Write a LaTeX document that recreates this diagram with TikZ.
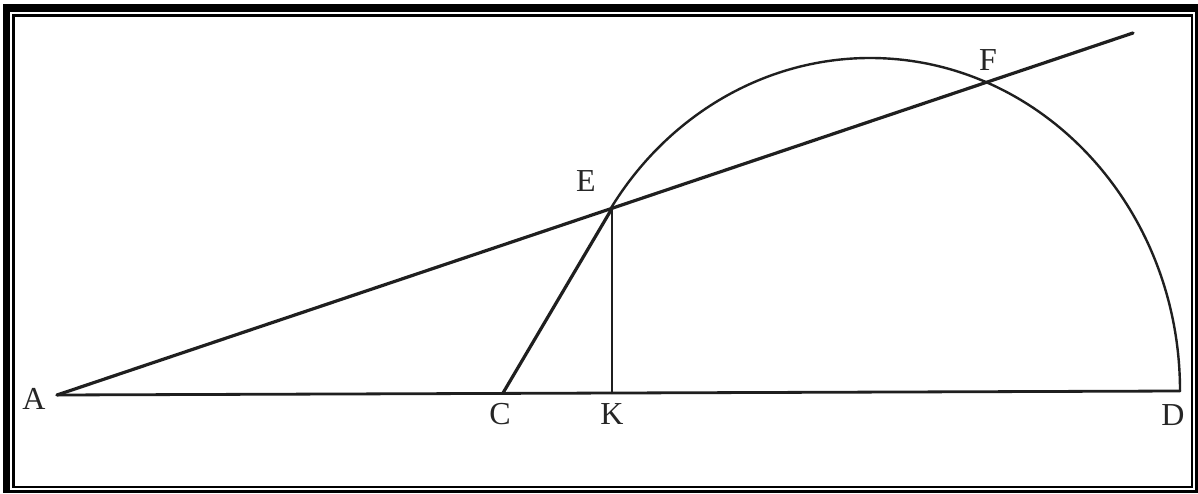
\documentclass[tikz,border=0pt]{standalone}
\usepackage{fontspec}
\setmainfont{Liberation Serif}
\begin{document}
\begin{tikzpicture}[x=1pt,y=1pt,
  lbl/.style={inner sep=0pt,font=\fontsize{32}{32}\selectfont,text=black!85},
  geo/.style={draw=black!88,line cap=round,line join=round},
  thick line/.style={geo,line width=3.2pt},
  mid line/.style={geo,line width=2.8pt},
  thin line/.style={geo,line width=2.4pt}]
\useasboundingbox (0,0) rectangle (1198,493);
\fill[white] (0,0) rectangle (1198,493);
% frame
\fill[black] (3,0) rectangle (1198,489);
\fill[white] (10,3) rectangle (1195,480.5);
\draw[line width=2.5pt] (13.5,6) rectangle (1192,477.5);
% points
\coordinate (A) at (57,98);
\coordinate (C) at (503,100);
\coordinate (K) at (612,100);
\coordinate (D) at (1180,102);
\coordinate (E) at (612,284.6);
\coordinate (F) at (987,411);
\coordinate (G) at (1133,460);
% lines
\draw[mid line] (A) -- (D);
\draw[thin line] (D) arc[start angle=0,end angle=147,x radius=310pt,y radius=333pt];
\draw[thick line] (A) -- (G);
\draw[thick line] (C) -- (E);
\draw[thin line] (E) -- (K);
% labels
\node[lbl] (lA) at (34,94) {A};
\node[lbl] (lC) at (500,79) {C};
\node[lbl] (lK) at (612,79) {K};
\node[lbl] (lD) at (1173,78) {D};
\node[lbl] (lE) at (586,312) {E};
\node[lbl] (lF) at (988,433) {F};
\end{tikzpicture}
\end{document}
